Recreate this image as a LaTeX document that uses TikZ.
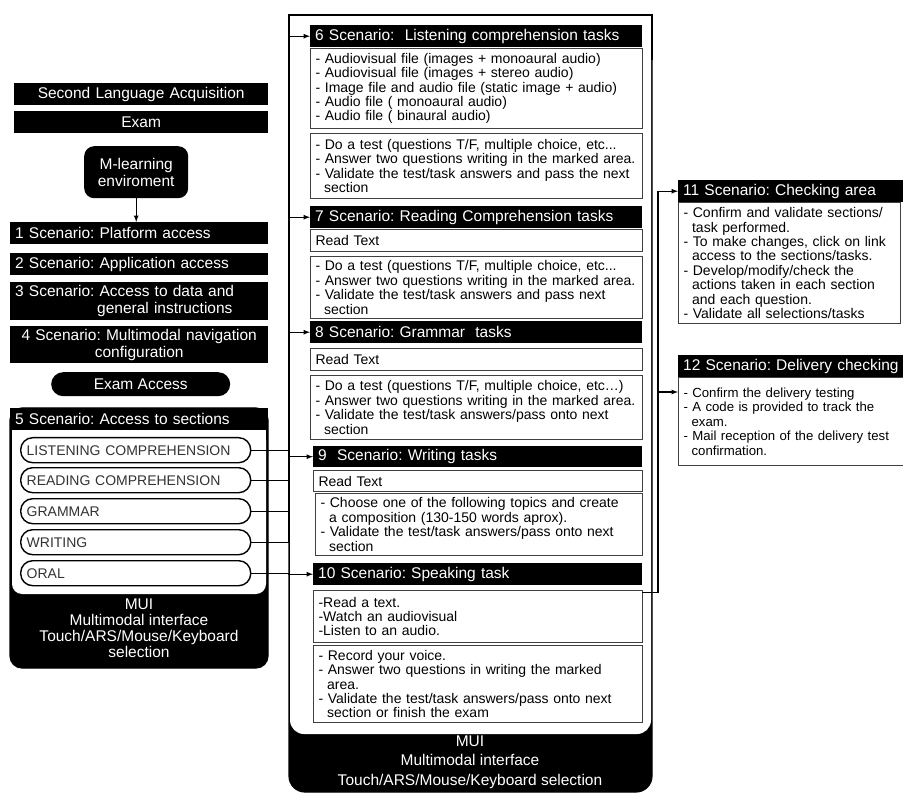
\documentclass[tikz,border=0pt]{standalone}
\usepackage{fontspec}
\setmainfont{Liberation Sans}
\usetikzlibrary{arrows,calc,positioning}
\frenchspacing
\newcommand{\hdfont}{\fontsize{15.5}{17}\selectfont}
\newcommand{\bdfont}{\fontsize{14}{14.4}\selectfont}
\newcommand{\plfont}{\fontsize{14}{15}\selectfont}
\newcommand{\muifont}{\fontsize{15.5}{16}\selectfont}
\newcommand{\indt}{\hspace*{0.61em}}
\begin{document}
\begin{tikzpicture}[x=1pt,y=-1pt,
    wire/.style={line width=1.2pt},
    arr/.style={wire,-latex},
    blk/.style={fill=black,text=white,font=\hdfont,anchor=north west,inner sep=0pt,inner xsep=5pt,minimum height=22pt,align=left},
    txtbox/.style={draw=black!75,line width=1.1pt,font=\bdfont,anchor=north west,inner sep=2pt,inner xsep=5pt,align=left},
    pill/.style={draw,line width=1.4pt,rounded corners=12pt,font=\plfont,text=black!80,anchor=north west,inner sep=0pt,inner xsep=6pt,minimum height=25pt,text width=218pt,align=left},
    blkpill/.style={fill=black,text=white,font=\hdfont,rounded corners=12pt,anchor=north west,inner sep=0pt,align=center},
    mui/.style={text=white,font=\muifont,align=center}
]
\useasboundingbox (0,0) rectangle (903,794);

\draw[wire,fill=black,rounded corners=16pt] (289,15) rectangle (652,792);
\fill[white] (290,16) rectangle (651,700);
\fill[white,rounded corners=14pt] (290,16) rectangle (651,734);
\draw[wire] (289,60) |- (652,15) -- (652,60);

\draw[wire,fill=black,rounded corners=12pt] (10,408) rectangle (268,668);
\fill (10,408) rectangle (268,450);
\fill[white,rounded corners=10pt] (12,430) rectangle (266,594);
\fill[white] (12,430) rectangle (266,570);

\node[blk,align=center,text width=244pt] (sla) at (14,83) {Second Language Acquisition};
\node[blk,align=center,text width=244pt] (exam) at (14,111) {Exam};
\node[blkpill,rounded corners=10pt,minimum width=104pt,minimum height=52pt] (mlearn) at (84,146) {M-learning\\enviroment};
\node[blk,text width=248pt] (sc1) at (10,222) {1 Scenario: Platform access};
\node[blk,text width=248pt] (sc2) at (10,253) {2 Scenario: Application access};
\node[blk,text width=248pt,minimum height=38pt] (sc3) at (10,282) {3 Scenario: Access to data and\\\hspace*{82pt}general instructions};
\node[blk,align=center,text width=248pt,minimum height=37pt] (sc4) at (10,326) {4 Scenario: Multimodal navigation\\configuration};
\node[blkpill,minimum width=179pt,minimum height=24pt] (acc) at (51,372) {Exam Access};
\node[blk,text width=248pt] (sc5) at (10,408) {5 Scenario: Access to sections};
\node[pill] (lis) at (20,437) {LISTENING COMPREHENSION};
\node[pill] (rea) at (20,467) {READING COMPREHENSION};
\node[pill] (gra) at (20,498) {GRAMMAR};
\node[pill] (wri) at (20,529) {WRITING};
\node[pill] (ora) at (20,560) {ORAL};
\node[mui] (mui1) at (139,628) {MUI\\Multimodal interface\\Touch/ARS/Mouse/Keyboard\\selection};

\node[blk,text width=322pt] (s6) at (310,25) {6 Scenario:\ \ Listening comprehension tasks};
\node[txtbox,text width=322pt,minimum height=80pt] (s6a) at (310,48) {- Audiovisual file (images + monoaural audio)\\- Audiovisual file (images + stereo audio)\\- Image file and audio file (static image + audio)\\- Audio file ( monoaural audio)\\- Audio file ( binaural audio)};
\node[txtbox,text width=322pt,minimum height=65pt] (s6b) at (310,133) {- Do a test (questions T/F, multiple choice, etc...\\- Answer two questions writing in the marked area.\\- Validate the test/task answers and pass the next\\\indt section};
\node[blk,text width=322pt] (s7) at (310,206) {7 Scenario: Reading Comprehension tasks};
\node[txtbox,text width=322pt,minimum height=22pt] (s7r) at (310,229) {Read Text};
\node[txtbox,text width=322pt,minimum height=62pt] (s7a) at (310,256) {- Do a test (questions T/F, multiple choice, etc...\\- Answer two questions writing in the marked area.\\- Validate the test/task answers and pass next\\\indt section};
\node[blk,text width=322pt] (s8) at (310,321) {8 Scenario: Grammar\ \ tasks};
\node[txtbox,text width=322pt,minimum height=22pt] (s8r) at (310,348) {Read Text};
\node[txtbox,text width=322pt,minimum height=64pt] (s8a) at (310,375) {- Do a test (questions T/F, multiple choice, etc\dots)\\- Answer two questions writing in the marked area.\\- Validate the test/task answers/pass onto next\\\indt section};
\node[blk,text width=319pt,minimum height=21pt] (s9) at (313,446) {9\ \ Scenario: Writing tasks};
\node[txtbox,text width=319pt,minimum height=21pt] (s9r) at (313,470) {Read Text};
\node[txtbox,text width=317pt,minimum height=62pt] (s9a) at (315,493) {- Choose one of the following topics and create\\\indt a composition (130-150 words aprox).\\- Validate the test/task answers/pass onto next\\\indt section};
\node[blk,text width=319pt] (s10) at (313,563) {10 Scenario: Speaking task};
\node[txtbox,text width=319pt,minimum height=52pt] (s10a) at (313,590) {-Read a text.\\-Watch an audiovisual\\-Listen to an audio.};
\node[txtbox,text width=319pt,minimum height=77pt] (s10b) at (313,645) {- Record your voice.\\- Answer two questions in writing the marked\\\indt area.\\- Validate the test/task answers/pass onto next\\\indt section or finish the exam};
\node[mui,font=\fontsize{15.5}{19.5}\selectfont] (mui2) at (470,762) {MUI\\Multimodal interface\\Touch/ARS/Mouse/Keyboard selection};

\node[blk,text width=215pt] (s11) at (678,180) {11 Scenario: Checking area};
\node[txtbox,text width=212pt,minimum height=121pt] (s11a) at (678,202) {- Confirm and validate sections/\\\indt task performed.\\- To make changes, click on link\\\indt access to the sections/tasks.\\- Develop/modify/check the\\\indt actions taken in each section\\\indt and each question.\\- Validate all selections/tasks};
\node[blk,text width=240pt] (s12) at (678,355) {12 Scenario: Delivery checking};
\node[txtbox,font=\fontsize{13.2}{14.4}\selectfont,text width=240pt,minimum height=88pt] (s12a) at (678,377) {- Confirm the delivery testing\\- A code is provided to track the\\\indt exam.\\- Mail reception of the delivery test\\\indt confirmation.};

\coordinate (bus) at (289,15);
\coordinate (rbus) at (658,15);
\coordinate (s12in) at ([yshift=-15pt]s12a.north west);
\draw[arr] (mlearn.south) -- (mlearn.south |- sc1.north);
\draw[arr] (lis.east) -- (lis.east -| bus) |- (s6.west);
\draw[arr] (rea.east) -- (rea.east -| bus) |- (s7.west);
\draw[arr] (gra.east) -- (gra.east -| bus) |- (s8.west);
\draw[arr] (wri.east) -- (wri.east -| bus) |- (s9.west);
\draw[arr] (ora.east) -- (ora.east -| bus) |- (s10.west);
\draw[arr] ([yshift=-7pt]s10.south east) -| (rbus |- s11.west) -- (s11.west);
\draw[arr] (rbus |- s12in) -- (s12in);
\end{tikzpicture}
\end{document}
